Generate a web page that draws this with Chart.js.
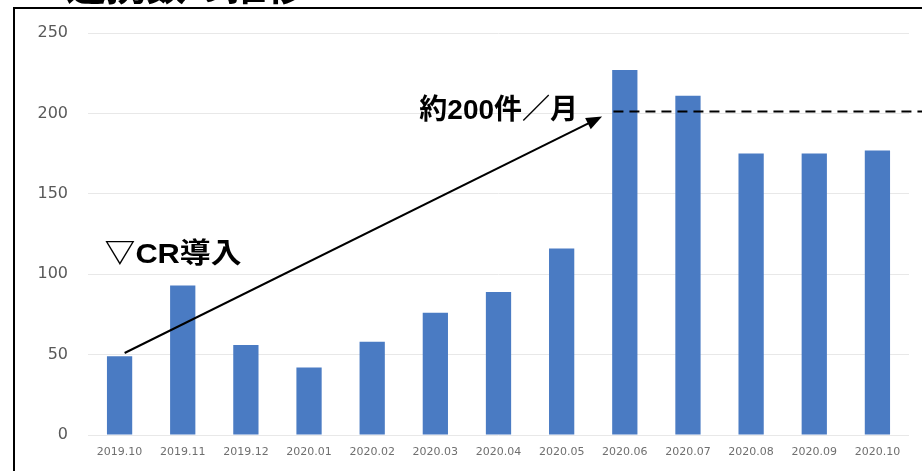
<!DOCTYPE html>
<html lang="ja">
<head>
<meta charset="utf-8">
<title>連携数の推移</title>
<script src="https://cdn.jsdelivr.net/npm/chart.js@4.4.1/dist/chart.umd.min.js"></script>
<style>
    html, body { margin: 0; padding: 0; background: #fff; }
    #wrap { width: 922px; height: 471px; position: relative; }
</style>
</head>
<body>
<div id="wrap"><canvas id="monthly-chart" width="922" height="471"></canvas></div>
<script>
// Monthly counts
const months = ['2019.10', '2019.11', '2019.12', '2020.01', '2020.02', '2020.03', '2020.04',
                '2020.05', '2020.06', '2020.07', '2020.08', '2020.09', '2020.10'];
const counts = [49, 93, 56, 42, 58, 76, 89, 116, 227, 211, 175, 175, 177];
const yTicks = [0, 50, 100, 150, 200, 250];

// Annotation values
const titleText = '連携数の推移';
const introLabel = '▽CR導入';
const targetLabel = '約200件／月';
const targetLevel = 200;
const arrowFrom = [0.08, 51];     // [category index, value]
const arrowTo = [7.64, 198];
const dashFrom = 7.82;           // category index where the dashed line begins

const barColour = '#4a7bc3';

/*
* Draws the frame, the clipped title, the arrow and the dashed line
*/
const annotations = {
    id: 'annotations',
    afterDatasetsDraw(chart) {
        const ctx = chart.ctx;
        const x = chart.scales.x;
        const y = chart.scales.y;
        ctx.save();

        // Frame round the chart
        ctx.strokeStyle = '#000';
        ctx.lineWidth = 2;
        ctx.strokeRect(14, 8, 1200, 1200);

        // Title sits above the frame, mostly out of view
        ctx.fillStyle = '#000';
        ctx.font = 'bold 40px "Noto Sans CJK JP"';
        ctx.textBaseline = 'alphabetic';
        ctx.textAlign = 'left';
        ctx.fillText(titleText, 66, 0);

        // Arrow from the first month up to the monthly level
        const x1 = x.getPixelForValue(arrowFrom[0]);
        const y1 = y.getPixelForValue(arrowFrom[1]);
        const x2 = x.getPixelForValue(arrowTo[0]);
        const y2 = y.getPixelForValue(arrowTo[1]);
        const angle = Math.atan2(y2 - y1, x2 - x1);
        const head = 17;
        ctx.lineWidth = 2;
        ctx.beginPath();
        ctx.moveTo(x1, y1);
        ctx.lineTo(x2 - Math.cos(angle) * head * 0.8, y2 - Math.sin(angle) * head * 0.8);
        ctx.stroke();
        ctx.beginPath();
        ctx.moveTo(x2, y2);
        ctx.lineTo(x2 - head * Math.cos(angle - 0.38), y2 - head * Math.sin(angle - 0.38));
        ctx.lineTo(x2 - head * Math.cos(angle + 0.38), y2 - head * Math.sin(angle + 0.38));
        ctx.closePath();
        ctx.fill();

        // Dashed level line
        const yLevel = y.getPixelForValue(targetLevel) - 2;
        ctx.setLineDash([10, 6]);
        ctx.beginPath();
        ctx.moveTo(x.getPixelForValue(dashFrom), yLevel);
        ctx.lineTo(chart.width, yLevel);
        ctx.stroke();
        ctx.setLineDash([]);

        // Labels
        ctx.font = 'bold 28px "Liberation Sans", "Noto Sans CJK JP"';
        ctx.textBaseline = 'middle';
        ctx.textAlign = 'right';
        ctx.fillText(targetLabel, x2 - 24, yLevel);

        // The intro label is a little wider than the font draws it
        ctx.textAlign = 'left';
        ctx.translate(x.getPixelForValue(0) - 15, y.getPixelForValue(112));
        ctx.scale(1.1, 1);
        ctx.fillText(introLabel, 0, 0);

        ctx.restore();
    }
};

new Chart(document.getElementById('monthly-chart'), {
    type: 'bar',
    data: {
        labels: months,
        datasets: [{
            label: '件数',
            data: counts,
            backgroundColor: barColour,
            borderWidth: 0,
            barPercentage: 0.8,
            categoryPercentage: 0.5
        }]
    },
    options: {
        responsive: false,
        animation: false,
        layout: {
            padding: { top: 33, right: 13, left: 0, bottom: 0 }
        },
        plugins: {
            legend: { display: false },
            tooltip: { enabled: false }
        },
        scales: {
            x: {
                grid: { display: false, drawTicks: false },
                border: { display: false },
                ticks: {
                    color: '#6f6f6f',
                    font: { family: 'DejaVu Sans', size: 11 },
                    padding: 11,
                    maxRotation: 0,
                    autoSkip: false
                },
                afterFit: function(scale) { scale.height = 36; }
            },
            y: {
                min: 0,
                max: 250,
                afterBuildTicks: function(scale) {
                    scale.ticks = yTicks.map(v => ({ value: v }));
                },
                grid: { color: '#e8e8e8', lineWidth: 1, drawTicks: false },
                border: { display: false },
                ticks: {
                    color: '#595959',
                    font: { family: 'DejaVu Sans', size: 16 },
                    padding: 20
                },
                afterFit: function(scale) { scale.width = 88; }
            }
        }
    },
    plugins: [annotations]
});
</script>
</body>
</html>
